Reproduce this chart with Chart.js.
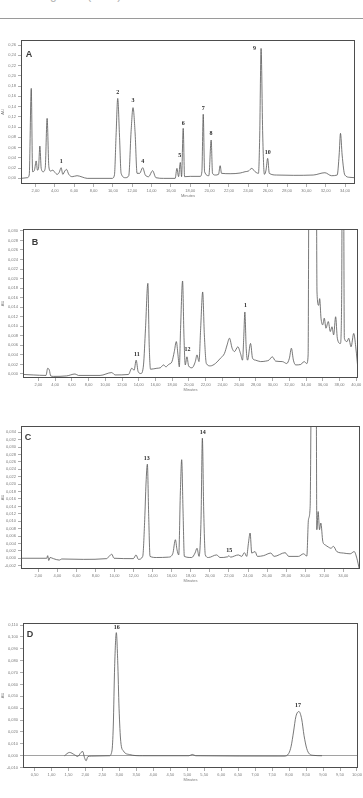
<!DOCTYPE html>
<html>
<head>
<meta charset="utf-8">
<script src="https://cdn.jsdelivr.net/npm/chart.js@4.4.0/dist/chart.umd.min.js"></script>
<style>
body { margin: 0; width: 363px; height: 798px; background: #fff; position: relative; overflow: hidden; font-family: "Liberation Sans", Arial, sans-serif; }
.hdr { position: absolute; left: 40px; top: -12px; font-size: 12px; color: #b0b0b0; }
.rule { position: absolute; left: 0; top: 18px; width: 363px; height: 1px; background: #9a9a9a; }
canvas { position: absolute; left: 0; }
</style>
</head>
<body>
<div class="hdr">Figure 1 (cont.)</div>
<div class="rule"></div>
<canvas id="chartA" width="363" height="168" style="top:30px"></canvas>
<canvas id="chartB" width="363" height="177" style="top:215px"></canvas>
<canvas id="chartC" width="363" height="173" style="top:410px"></canvas>
<canvas id="chartD" width="363" height="177" style="top:605px"></canvas>
<script>
// ---- panel A data (retention time in minutes, absorbance in AU)
var timeA = [0.52,1.14,1.35,1.56,1.70,1.89,2.07,2.20,2.31,2.45,
  2.59,2.79,3.00,3.20,3.38,3.55,3.79,4.00,4.24,4.45,
  4.65,4.82,5.03,5.20,5.44,5.79,6.30,6.82,7.34,9.92,
  10.16,10.33,10.50,10.68,10.85,11.30,11.64,11.88,12.08,12.29,
  12.50,12.77,13.08,13.35,13.70,14.10,14.45,15.24,16.44,16.62,
  16.79,16.97,17.10,17.27,17.41,18.00,19.03,19.20,19.34,19.48,
  19.92,20.16,20.30,20.58,20.92,21.09,21.23,22.12,23.15,23.67,
  24.01,24.36,24.70,25.05,25.18,25.32,25.49,25.66,25.83,26.00,
  26.17,26.93,28.65,30.71,31.92,32.60,33.19,33.39,33.53,33.70,
  33.98,34.50,35.00];
var signalA = [0,0.0013,0.0065,0.1755,0.013,0.016,0.034,0.016,0.0195,0.063,
  0.0195,0.013,0.0195,0.117,0.0228,0.0143,0.016,0.0117,0.0078,0.0117,
  0.0208,0.0078,0.0143,0.0176,0.0078,0.0033,0.0052,0.0026,0,0,
  0.0065,0.0845,0.156,0.0845,0.0098,0.0013,0.0052,0.091,0.138,0.091,
  0.0098,0.0098,0.0208,0.0065,0.0033,0.015,0.0013,0,0,0.0195,
  0.0033,0.031,0.0033,0.0975,0.0033,0.0039,0.0039,0.013,0.125,0.013,
  0.0052,0.0748,0.0098,0.0065,0.0078,0.0247,0.0098,0.0091,0.0104,0.013,
  0.0143,0.0195,0.013,0.0098,0.0845,0.2535,0.0845,0.0078,0.016,0.039,
  0.0098,0.0065,0.0059,0.0065,0.011,0.0052,0.0065,0.0455,0.0878,0.0455,
  0.0065,0.002,0.0013];
var peakNamesA = ["1","2","3","4","5","6","7","8","9","10"];
var peakTimesA = [4.65,10.5,12.08,13.08,16.9,17.27,19.34,20.13,24.63,26.0];
var peakLevelsA = [0.0325,0.1677,0.1528,0.0325,0.0455,0.107,0.1365,0.0878,0.2535,0.0507];
var xTicksA = [2,4,6,8,10,12,14,16,18,20,22,24,26,28,30,32,34];
var yTicksA = [0,0.02,0.04,0.06,0.08,0.10,0.12,0.14,0.16,0.18,0.20,0.22,0.24,0.26];

// ---- panel B data
var timeB = [0.21,1.4,2.92,3.12,3.32,3.48,3.8,5.39,6.39,6.79,
  9.38,10.78,11.17,12.77,13.17,13.45,13.69,13.93,14.25,14.57,
  14.81,15.09,15.25,15.41,16.17,16.57,16.97,17.25,17.57,17.97,
  18.25,18.49,18.69,18.85,19.0,19.24,19.4,19.56,19.76,19.96,
  20.36,20.76,20.96,21.2,21.4,21.64,21.84,22.08,22.56,23.16,
  23.76,24.24,24.56,24.84,25.16,25.44,25.84,26.16,26.4,26.56,
  26.68,26.84,27.0,27.36,27.6,27.96,28.56,29.16,29.56,29.96,
  30.36,31.16,31.68,32.0,32.24,32.48,32.76,33.36,33.76,34.08,
  34.24,34.36,35.2,35.3,35.5,35.62,35.78,35.98,36.17,36.37,
  36.65,36.89,37.09,37.29,37.53,37.73,38.09,38.25,38.33,38.45,
  38.57,38.89,39.09,39.37,39.69,39.93,40.29];
var signalB = [-0.0001,-0.0002,-0.0003,0.0012,0.0008,-0.0004,-0.0005,-0.0004,0,-0.0003,
  -0.0003,0.0003,-0.0002,-0.0001,0.0012,0.0008,0.0029,0.0005,0.0001,0.0019,
  0.0096,0.019,0.0061,0.001,0.0012,0.0013,0.0019,0.0015,0.002,0.0026,
  0.0047,0.0068,0.004,0.0015,0.0096,0.0195,0.0082,0.0019,0.0036,0.0017,
  0.0013,0.0026,0.004,0.0026,0.0096,0.0172,0.0082,0.0022,0.0017,0.0022,
  0.0033,0.0043,0.0061,0.0075,0.0054,0.0047,0.0057,0.0043,0.0029,0.0082,
  0.013,0.0054,0.0029,0.0064,0.0033,0.0029,0.0026,0.0027,0.0029,0.0036,
  0.0027,0.0026,0.0022,0.0033,0.0054,0.0029,0.0019,0.002,0.0026,0.0022,
  0.004,0.052,0.052,0.0172,0.0144,0.0158,0.0117,0.0103,0.0117,0.0096,
  0.011,0.0089,0.0099,0.0082,0.012,0.0075,0.0064,0.0165,0.052,0.052,
  0.0075,0.0068,0.0075,0.0057,0.0085,0.0057,-0.0009];
var peakNamesB = ["11","12","1"];
var peakTimesB = [13.77,19.84,26.76];
var peakLevelsB = [0.0042,0.0052,0.0144];
var xTicksB = [2,4,6,8,10,12,14,16,18,20,22,24,26,28,30,32,34,36,38,40];
var yTicksB = [0,0.002,0.004,0.006,0.008,0.010,0.012,0.014,0.016,0.018,0.020,0.022,0.024,0.026,0.028,0.030];

// ---- panel C data
var timeC = [0.25,2.88,2.98,3.09,3.23,3.58,4.2,4.45,6.72,9.17,
  9.45,9.7,9.94,11.97,12.25,12.5,12.95,13.16,13.3,13.44,
  13.58,13.72,14.42,15.64,16.1,16.38,16.55,16.73,16.9,17.04,
  17.18,17.32,18.09,18.44,18.65,18.86,19.07,19.21,19.35,19.52,
  19.84,20.71,21.06,21.87,22.01,22.15,22.99,23.34,23.62,23.86,
  24.04,24.22,24.39,24.74,24.99,25.62,26.39,26.74,27.89,28.28,
  29.29,29.82,30.17,30.34,30.52,30.66,31.15,31.22,31.36,31.5,
  31.64,31.85,32.1,32.45,32.69,32.97,33.32,34.02,34.72,35.14,
  35.42,35.7];
var signalC = [0,0,0.0007,-0.0006,0.0002,-0.0001,-0.0005,-0.0002,-0.0003,-0.0001,
  0.0006,0.0011,0,-0.0001,0.0009,-0.0003,0.0005,0.0104,0.0203,0.0254,
  0.0113,0.0005,0.0002,0.0003,0.0012,0.005,0.0023,0.0009,0.0176,0.0266,
  0.013,0.0005,0.0002,0.0014,0.0027,0.0005,0.0104,0.0324,0.013,0.0009,
  0.0002,0.0009,0.0002,0.0004,0.0007,0.0003,0.0009,0.0005,0.0015,0.0005,
  0.004,0.0068,0.0014,0.0018,0.0005,0.0007,0.0014,0.0005,0.0015,0.0005,
  0.0005,0.0012,0.0006,0.0104,0.014,0.05,0.05,0.0077,0.0126,0.0077,
  0.0095,0.0045,0.0036,0.003,0.0027,0.0032,0.0018,0.0014,0.0012,0.0018,
  0,-0.0032];
var peakNamesC = ["13","14","15"];
var peakTimesC = [13.37,19.24,22.04];
var peakLevelsC = [0.027,0.034,0.0021];
var xTicksC = [2,4,6,8,10,12,14,16,18,20,22,24,26,28,30,32,34];
var yTicksC = [-0.002,0,0.002,0.004,0.006,0.008,0.010,0.012,0.014,0.016,0.018,0.020,0.022,0.024,0.026,0.028,0.030,0.032,0.034];

// ---- panel D data
var timeD = [1.38,1.53,1.68,1.77,1.87,1.92,1.97,2.02,2.07,2.17,
  2.70,2.78,2.82,2.86,2.91,2.95,2.99,3.04,3.12,3.30,
  3.68,5.05,5.15,5.25,7.85,7.99,8.06,8.13,8.20,8.29,
  8.37,8.44,8.52,8.60,8.73,8.97];
var signalD = [0,0.0028,0.0008,-0.0006,0.0028,0.0036,-0.0014,-0.0042,-0.0008,-0.0003,
  0,0.004,0.025,0.075,0.1036,0.08,0.04,0.012,0.004,0.001,
  0,0,0.0011,0,-0.0003,0.002,0.008,0.02,0.033,0.0372,
  0.031,0.017,0.006,0.0015,0.0003,0];
var peakNamesD = ["16","17"];
var peakTimesD = [2.92,8.26];
var peakLevelsD = [0.1078,0.0426];
var xTicksD = [0.5,1,1.5,2,2.5,3,3.5,4,4.5,5,5.5,6,6.5,7,7.5,8,8.5,9,9.5,10];
var yTicksD = [-0.01,0,0.01,0.02,0.03,0.04,0.05,0.06,0.07,0.08,0.09,0.10,0.11];


Chart.defaults.font.family = '"Liberation Sans", Arial, sans-serif';
Chart.defaults.font.size = 4;
Chart.defaults.color = '#7a7a7a';

function commaFmt(v, d) {
    return Number(v).toFixed(d).replace('.', ',');
}

// frame, panel letter and peak numbers
var chromExtras = {
    id: 'chromExtras',
    afterDatasetsDraw: function (chart, args, opts) {
        var ctx = chart.ctx, area = chart.chartArea;
        var xs = chart.scales.x, ys = chart.scales.y;
        ctx.save();
        ctx.strokeStyle = '#4d4d4d';
        ctx.lineWidth = 1;
        ctx.strokeRect(Math.round(area.left) + 0.5, Math.round(area.top) + 0.5,
            Math.round(area.right - area.left) - 1, Math.round(area.bottom - area.top) - 1);
        ctx.fillStyle = '#3a3a3a';
        ctx.font = 'bold 9px "Liberation Sans"';
        ctx.textAlign = 'center';
        ctx.textBaseline = 'middle';
        ctx.fillText(opts.letter, area.left + opts.letterDx, area.top + opts.letterDy);
        ctx.font = 'bold 6px "Liberation Serif"';
        ctx.fillStyle = '#2a2a2a';
        opts.names.forEach(function (n, i) {
            ctx.fillText(n, xs.getPixelForValue(opts.times[i]), ys.getPixelForValue(opts.levels[i]));
        });
        ctx.restore();
    }
};

function drawChromatogram(id, p) {
    var pts = p.times.map(function (t, i) { return { x: t, y: p.signals[i] }; });
    return new Chart(document.getElementById(id), {
        type: 'line',
        data: {
            datasets: [{
                data: pts,
                borderColor: '#555',
                borderWidth: 0.8,
                pointRadius: 0,
                cubicInterpolationMode: 'monotone',
                fill: false
            }]
        },
        options: {
            responsive: false,
            animation: false,
            devicePixelRatio: 1,
            layout: { padding: p.pad },
            plugins: {
                legend: { display: false },
                tooltip: { enabled: false },
                chromExtras: { letter: p.letter, letterDx: p.letterDx, letterDy: p.letterDy,
                    names: p.names, times: p.peakTimes, levels: p.peakLevels }
            },
            scales: {
                x: {
                    type: 'linear',
                    min: p.xMin, max: p.xMax,
                    afterBuildTicks: function (s) { s.ticks = p.xTicks.map(function (v) { return { value: v }; }); },
                    afterFit: function (s) { s.height = p.xH; },
                    ticks: { autoSkip: false, maxRotation: 0, padding: 1,
                        callback: function (v) { return commaFmt(v, 2); } },
                    grid: { drawOnChartArea: false, tickLength: 3, tickColor: '#777', tickWidth: 0.6 },
                    border: { display: false },
                    title: { display: true, text: 'Minutes', padding: 0, font: { size: 4 } }
                },
                y: {
                    min: p.yMin, max: p.yMax,
                    afterBuildTicks: function (s) { s.ticks = p.yTicks.map(function (v) { return { value: v }; }); },
                    afterFit: function (s) { s.width = p.yW; },
                    ticks: { autoSkip: false, padding: 2,
                        callback: function (v) { return commaFmt(v, p.yDec); } },
                    grid: {
                        drawOnChartArea: p.zeroLine,
                        color: function (c) { return c.tick && c.tick.value === 0 ? '#8a8a8a' : 'rgba(0,0,0,0)'; },
                        lineWidth: 0.8,
                        tickLength: 3, tickColor: '#777', tickWidth: 0.6
                    },
                    border: { display: false },
                    title: { display: true, text: 'AU', padding: 0, font: { size: 4 } }
                }
            }
        },
        plugins: [chromExtras]
    });
}

var chartA = drawChromatogram('chartA', {
    times: timeA, signals: signalA, names: peakNamesA, peakTimes: peakTimesA, peakLevels: peakLevelsA,
    xTicks: xTicksA, yTicks: yTicksA, xMin: 0.5, xMax: 35.03, yMin: -0.011, yMax: 0.27, yDec: 2,
    pad: { left: 0, right: 8, top: 10, bottom: 0 }, yW: 21, xH: 14, zeroLine: false,
    letter: 'A', letterDx: 8, letterDy: 15
});

var chartB = drawChromatogram('chartB', {
    times: timeB, signals: signalB, names: peakNamesB, peakTimes: peakTimesB, peakLevels: peakLevelsB,
    xTicks: xTicksB, yTicks: yTicksB, xMin: 0.17, xMax: 40.2, yMin: -0.00084, yMax: 0.0304, yDec: 3,
    pad: { left: 0, right: 5, top: 14, bottom: 0 }, yW: 23, xH: 14, zeroLine: false,
    letter: 'B', letterDx: 12, letterDy: 14
});

var chartC = drawChromatogram('chartC', {
    times: timeC, signals: signalC, names: peakNamesC, peakTimes: peakTimesC, peakLevels: peakLevelsC,
    xTicks: xTicksC, yTicks: yTicksC, xMin: 0.18, xMax: 35.75, yMin: -0.0029, yMax: 0.0357, yDec: 3,
    pad: { left: 0, right: 3, top: 16, bottom: 0 }, yW: 21, xH: 14, zeroLine: false,
    letter: 'C', letterDx: 7, letterDy: 12
});

var chartD = drawChromatogram('chartD', {
    times: timeD, signals: signalD, names: peakNamesD, peakTimes: peakTimesD, peakLevels: peakLevelsD,
    xTicks: xTicksD, yTicks: yTicksD, xMin: 0.16, xMax: 10.03, yMin: -0.0103, yMax: 0.1117, yDec: 3,
    pad: { left: 0, right: 4, top: 18, bottom: 0 }, yW: 23, xH: 14, zeroLine: true,
    letter: 'D', letterDx: 7, letterDy: 12
});
</script>
</body>
</html>
